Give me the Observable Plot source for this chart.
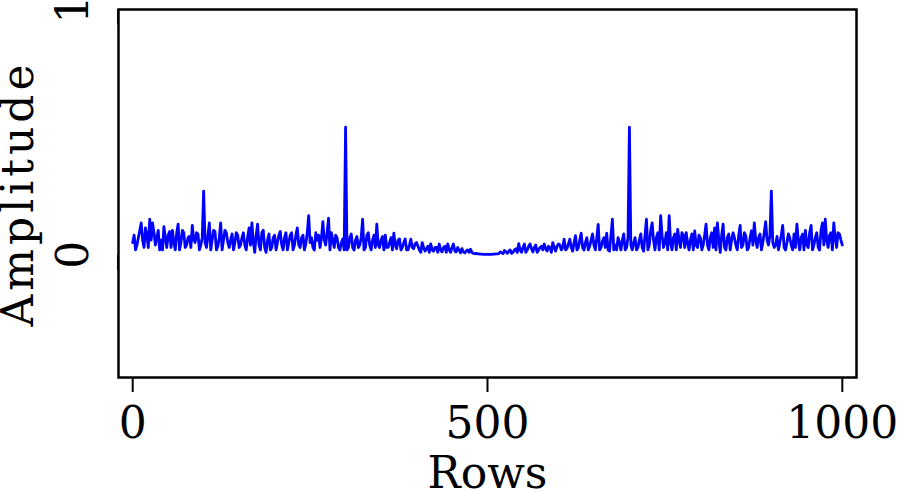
<!DOCTYPE html>
<html>
<head>
<meta charset="utf-8">
<script src="https://cdn.jsdelivr.net/npm/d3@7"></script>
<script src="https://cdn.jsdelivr.net/npm/@observablehq/plot@0.6"></script>
<style>
  html, body { margin: 0; padding: 0; background: #fff; }
</style>
</head>
<body>
<div id="chart"></div>
<script>
// Amplitude at rows 0, 4, 8, ..., 1000
const amplitude = [
  0.05,0.02,0.07,0.13,0.03,0.08,0.145,0.13,0.04,0.10,
  0.06,0.115,0.03,0.095,0.10,0.02,0.125,0.05,0.09,0.04,
  0.075,0.12,0.05,0.085,0.04,0.26,0.03,0.13,0.06,0.095,
  0.035,0.13,0.06,0.09,0.03,0.085,0.05,0.08,0.04,0.09,
  0.02,0.11,0.13,0.01,0.125,0.02,0.10,0.01,0.085,0.03,
  0.08,0.05,0.095,0.02,0.09,0.05,0.09,0.04,0.11,0.03,
  0.08,0.045,0.16,0.07,0.02,0.06,0.03,0.135,0.04,0.15,
  0.09,0.03,0.07,0.02,0.065,0.52,0.03,0.085,0.02,0.075,
  0.04,0.145,0.03,0.09,0.02,0.08,0.125,0.03,0.075,0.08,
  0.03,0.07,0.088,0.025,0.065,0.03,0.065,0.02,0.064,0.025,
  0.05,0.02,0.05,0.015,0.035,0.045,0.015,0.03,0.044,0.012,
  0.035,0.044,0.01,0.044,0.012,0.02,0.025,0.008,0.02,0.023,
  0.006,0.006,0.004,0.003,0.002,0.002,0.002,0.003,0.004,0.005,
  0.008,0.018,0.006,0.02,0.01,0.025,0.046,0.01,0.044,0.02,
  0.044,0.012,0.04,0.02,0.035,0.044,0.015,0.03,0.05,0.015,
  0.044,0.02,0.064,0.025,0.064,0.015,0.078,0.03,0.088,0.02,
  0.07,0.035,0.085,0.02,0.124,0.03,0.07,0.088,0.015,0.145,
  0.04,0.07,0.02,0.085,0.03,0.52,0.02,0.07,0.03,0.085,
  0.015,0.145,0.04,0.13,0.02,0.09,0.16,0.03,0.09,0.16,
  0.02,0.085,0.104,0.03,0.08,0.09,0.02,0.085,0.098,0.03,
  0.07,0.04,0.125,0.02,0.09,0.11,0.13,0.01,0.125,0.02,
  0.085,0.06,0.07,0.02,0.12,0.04,0.078,0.03,0.098,0.13,
  0.03,0.085,0.05,0.135,0.04,0.26,0.03,0.075,0.05,0.12,
  0.02,0.085,0.04,0.085,0.125,0.02,0.085,0.10,0.03,0.12,
  0.04,0.09,0.02,0.13,0.145,0.03,0.09,0.13,0.03,0.085,
  0.04
];
// Amplitude at the in-between rows 2, 6, 10, ..., 998
const amplitudeMid = [
  0.08,0.04,0.10,0.06,0.11,0.03,0.06,0.09,0.07,0.02,
  0.02,0.07,0.08,0.03,0.05,0.09,0.02,0.10,0.03,0.07,
  0.03,0.06,0.09,0.02,0.07,0.05,0.08,0.02,0.10,0.02,
  0.07,0.02,0.10,0.05,0.06,0.02,0.09,0.03,0.07,0.04,
  0.07,0.04,0.05,0.08,0.04,0.09,0.03,0.06,0.02,0.07,
  0.02,0.08,0.04,0.07,0.02,0.08,0.02,0.08,0.04,0.07,
  0.02,0.09,0.05,0.03,0.09,0.08,0.07,0.06,0.09,0.02,
  0.06,0.08,0.03,0.05,0.02,0.02,0.07,0.03,0.06,0.03,
  0.07,0.02,0.08,0.04,0.06,0.03,0.04,0.06,0.02,0.03,
  0.05,0.02,0.04,0.06,0.02,0.05,0.02,0.04,0.03,0.045,
  0.035,0.01,0.03,0.025,0.01,0.02,0.03,0.01,0.02,0.03,
  0.01,0.02,0.03,0.015,0.03,0.008,0.012,0.015,0.01,0.01,
  0.005,0.004,0.003,0.002,0.002,0.002,0.002,0.003,0.004,0.012,
  0.005,0.012,0.015,0.006,0.02,0.01,0.02,0.03,0.01,0.035,
  0.025,0.03,0.01,0.03,0.02,0.025,0.035,0.01,0.03,0.035,
  0.04,0.03,0.02,0.045,0.03,0.05,0.02,0.06,0.03,0.05,
  0.02,0.06,0.04,0.07,0.02,0.055,0.03,0.02,0.08,0.02,
  0.02,0.05,0.06,0.02,0.07,0.04,0.05,0.02,0.06,0.03,
  0.08,0.02,0.10,0.06,0.07,0.02,0.08,0.05,0.02,0.05,
  0.07,0.02,0.06,0.09,0.03,0.05,0.06,0.02,0.04,0.08,
  0.02,0.08,0.04,0.07,0.03,0.02,0.06,0.08,0.03,0.07,
  0.02,0.09,0.04,0.08,0.03,0.09,0.02,0.07,0.04,0.06,
  0.07,0.02,0.09,0.06,0.08,0.05,0.04,0.02,0.08,0.03,
  0.05,0.07,0.02,0.03,0.06,0.07,0.02,0.04,0.09,0.02,
  0.07,0.03,0.10,0.04,0.06,0.08,0.02,0.07,0.09,0.06
];
const xTicks = [0, 500, 1000];
const yTicks = [0, 1];
const xLabel = "Rows";
const yLabel = "Amplitude";

const data = [
  ...amplitude.map((a, i) => ({row: i * 4, amp: a})),
  ...amplitudeMid.map((a, i) => ({row: i * 4 + 2, amp: a}))
].sort((a, b) => a.row - b.row);

const font = "'DejaVu Serif', 'Liberation Serif', serif";

const chart = Plot.plot({
  width: 900,
  height: 492,
  marginLeft: 118,
  marginRight: 44,
  marginTop: 9,
  marginBottom: 115,
  style: {fontFamily: font, fontSize: "44px", background: "white", color: "black", overflow: "visible"},
  x: {domain: [-20, 1020]},
  y: {domain: [-0.5, 1]},
  marks: [
    Plot.line(data, {x: "row", y: "amp", stroke: "#0000ff", strokeWidth: 2.8, strokeLinejoin: "round"}),
    Plot.frame({stroke: "black", strokeWidth: 2.5}),
    Plot.axisX({ticks: xTicks, tickFormat: "d", tickSize: 15, tickPadding: 14, fontSize: 44, strokeWidth: 2, label: null}),
    Plot.axisY({ticks: yTicks, tickFormat: "d", tickSize: 15, tickPadding: 16, fontSize: 44, rotate: -90, textAnchor: "middle", lineAnchor: "bottom", strokeWidth: 2, label: null}),
    Plot.text([xLabel], {text: d => d, frameAnchor: "bottom", dy: 110, lineAnchor: "bottom", fontSize: 44}),
    Plot.text([yLabel], {text: d => d, frameAnchor: "left", dx: -86, rotate: -90, textAnchor: "middle", lineAnchor: "bottom", fontSize: 44})
  ]
});
// widen the rotated axis title's letter spacing to match the reference
chart.querySelectorAll("text").forEach(t => {
  if (t.textContent === yLabel) t.style.letterSpacing = "4px";
});
document.getElementById("chart").appendChild(chart);
</script>
</body>
</html>
